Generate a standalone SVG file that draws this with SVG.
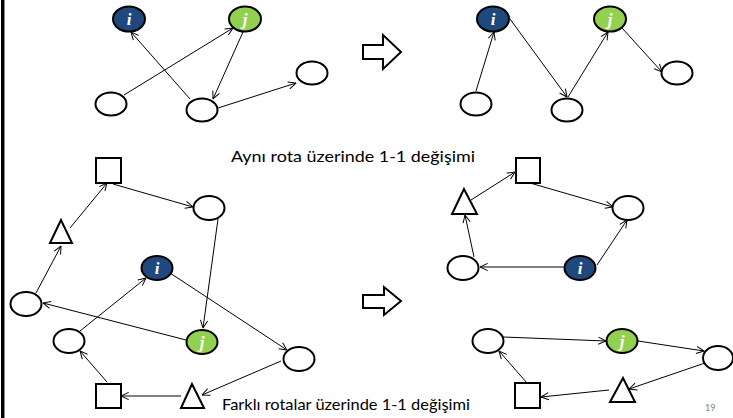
<svg xmlns="http://www.w3.org/2000/svg" width="733" height="418" viewBox="0 0 733 418">
  <defs>
    <marker id="arr" viewBox="0 0 10 10" refX="9.5" refY="5" markerWidth="9" markerHeight="9" markerUnits="userSpaceOnUse" orient="auto">
      <path d="M1,1 L9.5,5 L1,9" fill="none" stroke="#000" stroke-width="1.1"/>
    </marker>
  </defs>
  <style>
    .n { fill: #fff; stroke: #000; stroke-width: 2; }
    .ni { fill: #1f497d; stroke: #000; stroke-width: 2; }
    .nj { fill: #92d050; stroke: #000; stroke-width: 2; }
    .lbl { font-family: "Liberation Serif", serif; font-style: italic; font-weight: bold; font-size: 17px; fill: #fff; text-anchor: middle; }
    .e line { stroke: #000; stroke-width: 1; marker-end: url(#arr); }
    .cap { font-family: Lato, "Open Sans", "Liberation Sans", sans-serif; font-size: 16px; fill: #000; }
    .big { fill: #fff; stroke: #000; stroke-width: 2; }
  </style>

  <rect width="733" height="418" fill="#fff"/>
  <!-- left frame line -->
  <line x1="2.5" y1="0" x2="2.5" y2="418" stroke="#000" stroke-width="3"/>
  <line x1="4.5" y1="0" x2="4.5" y2="418" stroke="#888" stroke-width="1"/>

  <!-- connectors -->
  <g id="edges" class="e">
    <!-- top left: before -->
    <line x1="124" y1="95" x2="233" y2="28"/>
    <line x1="190" y1="99" x2="131" y2="32"/>
    <line x1="243" y1="32" x2="213" y2="99"/>
    <line x1="218" y1="108" x2="296" y2="83"/>
    <!-- top right: after -->
    <line x1="476" y1="91" x2="494" y2="32"/>
    <line x1="510" y1="19" x2="567" y2="97"/>
    <line x1="568" y1="97" x2="608" y2="32"/>
    <line x1="622" y1="28" x2="662" y2="72"/>
    <!-- bottom left: before -->
    <line x1="36" y1="293" x2="61" y2="246"/>
    <line x1="70" y1="228" x2="107" y2="183"/>
    <line x1="113" y1="184" x2="193" y2="207"/>
    <line x1="218" y1="219" x2="203" y2="328"/>
    <line x1="170" y1="273" x2="287" y2="350"/>
    <line x1="80" y1="331" x2="146" y2="278"/>
    <line x1="186" y1="340" x2="43" y2="303"/>
    <line x1="181" y1="396" x2="121" y2="396"/>
    <line x1="281" y1="361" x2="202" y2="395"/>
    <line x1="107" y1="382" x2="80" y2="351"/>
    <!-- bottom right: after, first route -->
    <line x1="471" y1="200" x2="515" y2="172"/>
    <line x1="530" y1="183" x2="613" y2="207"/>
    <line x1="597" y1="265" x2="627" y2="220"/>
    <line x1="564" y1="267" x2="480" y2="267"/>
    <line x1="474" y1="257" x2="465" y2="215"/>
    <!-- bottom right: after, second route -->
    <line x1="503" y1="337" x2="606" y2="341"/>
    <line x1="638" y1="341" x2="704" y2="351"/>
    <line x1="705" y1="363" x2="629" y2="389"/>
    <line x1="609" y1="390" x2="541" y2="397"/>
    <line x1="527" y1="383" x2="499" y2="351"/>
  </g>

  <!-- top left nodes -->
  <g id="tl-i"><ellipse class="ni" cx="129" cy="19" rx="16" ry="12.5"/><text class="lbl" x="129" y="25">i</text></g>
  <g id="tl-j"><ellipse class="nj" cx="245" cy="19" rx="16" ry="12.5"/><text class="lbl" x="245" y="25">j</text></g>
  <g id="tl-a"><ellipse class="n" cx="111" cy="104" rx="15.5" ry="11.5"/></g>
  <g id="tl-b"><ellipse class="n" cx="202" cy="110" rx="15.5" ry="11.5"/></g>
  <g id="tl-c"><ellipse class="n" cx="312" cy="73" rx="15.5" ry="11.5"/></g>

  <!-- top right nodes -->
  <g id="tr-i"><ellipse class="ni" cx="493" cy="19" rx="16" ry="12.5"/><text class="lbl" x="493" y="25">i</text></g>
  <g id="tr-j"><ellipse class="nj" cx="610" cy="19" rx="16" ry="12.5"/><text class="lbl" x="610" y="25">j</text></g>
  <g id="tr-a"><ellipse class="n" cx="476" cy="104" rx="15.5" ry="11.5"/></g>
  <g id="tr-b"><ellipse class="n" cx="567" cy="110" rx="15.5" ry="11.5"/></g>
  <g id="tr-c"><ellipse class="n" cx="677" cy="73" rx="15.5" ry="11.5"/></g>

  <!-- transformation arrows -->
  <g id="arrow-top"><path class="big" d="M363,45 H383 V35 L401,52 L383,69 V59 H363 Z"/></g>
  <g id="arrow-bottom"><path class="big" d="M363,295 H384 V287 L401,301 L384,315 V308 H363 Z"/></g>

  <!-- captions -->
  <text class="cap" x="231" y="162" textLength="244" lengthAdjust="spacingAndGlyphs">Aynı rota üzerinde 1-1 değişimi</text>
  <text class="cap" x="222" y="410" textLength="248" lengthAdjust="spacingAndGlyphs">Farklı rotalar üzerinde 1-1 değişimi</text>
  <text x="705" y="411" font-family="Lato, Liberation Sans, sans-serif" font-size="9" fill="#808080">19</text>

  <!-- bottom left nodes -->
  <g id="bl-sq1"><rect class="n" x="96" y="158" width="25" height="25"/></g>
  <g id="bl-tri1"><polygon class="n" points="61,220 50,243 72,243"/></g>
  <g id="bl-e1"><ellipse class="n" cx="209" cy="208" rx="15.5" ry="12"/></g>
  <g id="bl-i"><ellipse class="ni" cx="157" cy="268" rx="15.5" ry="12"/><text class="lbl" x="157" y="274">i</text></g>
  <g id="bl-e2"><ellipse class="n" cx="26" cy="304" rx="15.5" ry="12"/></g>
  <g id="bl-e3"><ellipse class="n" cx="69" cy="341" rx="15.5" ry="12"/></g>
  <g id="bl-j"><ellipse class="nj" cx="202" cy="342" rx="15.5" ry="12"/><text class="lbl" x="202" y="348">j</text></g>
  <g id="bl-e4"><ellipse class="n" cx="299" cy="359" rx="15.5" ry="12"/></g>
  <g id="bl-sq2"><rect class="n" x="96" y="384" width="25" height="24"/></g>
  <g id="bl-tri2"><polygon class="n" points="192,384 181,408 204,408"/></g>

  <!-- bottom right nodes -->
  <g id="br-sq1"><rect class="n" x="516" y="158" width="24" height="25"/></g>
  <g id="br-tri1"><polygon class="n" points="464,189 452,214 477,214"/></g>
  <g id="br-e1"><ellipse class="n" cx="628" cy="208" rx="15.5" ry="12"/></g>
  <g id="br-e2"><ellipse class="n" cx="463" cy="268" rx="15.5" ry="12"/></g>
  <g id="br-i"><ellipse class="ni" cx="580" cy="268" rx="15.5" ry="12"/><text class="lbl" x="580" y="274">i</text></g>
  <g id="br-e3"><ellipse class="n" cx="488" cy="341" rx="15.5" ry="12"/></g>
  <g id="br-j"><ellipse class="nj" cx="622" cy="341" rx="15.5" ry="12"/><text class="lbl" x="622" y="347">j</text></g>
  <g id="br-e4"><ellipse class="n" cx="718" cy="358" rx="15" ry="12"/></g>
  <g id="br-sq2"><rect class="n" x="515" y="383" width="25" height="25"/></g>
  <g id="br-tri2"><polygon class="n" points="623,378 610,402 635,402"/></g>
</svg>
